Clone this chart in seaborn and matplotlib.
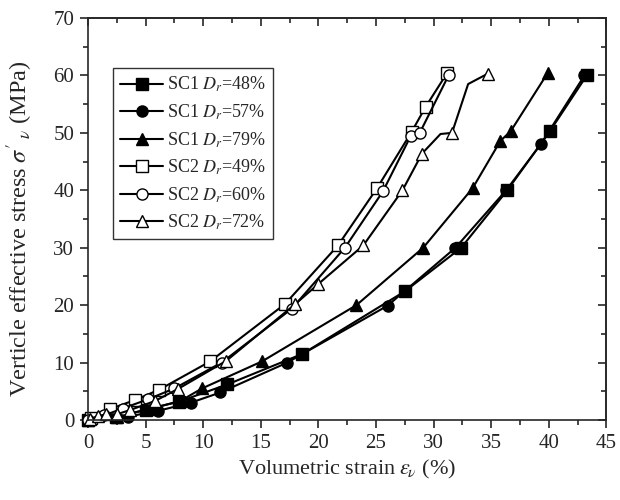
import numpy as np
import pandas as pd
import matplotlib
matplotlib.use("Agg")
import matplotlib.pyplot as plt
import seaborn as sns
from matplotlib.ticker import MultipleLocator

# Volumetric strain (%) and vertical effective stress (MPa) for each test
sc1_48_x = [0, 2.4, 5.0, 7.9, 12.1, 18.6, 27.5, 32.4, 36.4, 40.1, 43.3]
sc1_48_y = [0, 0.5, 1.8, 3.2, 6.2, 11.5, 22.4, 30.0, 40.0, 50.3, 60.0]

sc1_57_x = [0, 3.5, 6.1, 8.9, 11.5, 17.3, 26.0, 31.9, 36.3, 39.3, 43.1]
sc1_57_y = [0, 0.6, 1.6, 3.0, 4.8, 10.0, 19.9, 30.0, 40.0, 48.0, 60.0]

sc1_79_x = [0, 2.5, 5.5, 8.0, 9.9, 15.1, 23.3, 29.1, 33.4, 35.8, 36.7, 39.9]
sc1_79_y = [0, 0.5, 2.0, 3.3, 5.5, 10.2, 20.0, 30.0, 40.4, 48.6, 50.3, 60.4]

sc2_49_x = [0.3, 1.9, 4.1, 6.2, 10.6, 17.1, 21.7, 25.1, 28.1, 29.3, 31.2]
sc2_49_y = [0.4, 1.9, 3.5, 5.3, 10.2, 20.2, 30.4, 40.4, 50.2, 54.5, 60.5]

sc2_60_x = [0, 1.4, 3.0, 5.2, 7.5, 11.6, 17.7, 22.3, 25.6, 28.0, 28.8, 31.3]
sc2_60_y = [0, 0.8, 2.0, 3.6, 5.5, 10.0, 19.4, 30.0, 39.8, 49.4, 50.0, 60.0]

sc2_72_x = [0.2, 0.9, 1.6, 2.5, 3.6, 5.8, 7.8, 12.0, 18.0, 20.0, 23.9, 27.3, 29.0, 30.6, 31.6, 33.0, 34.7]
sc2_72_y = [0.2, 0.7, 1.0, 1.0, 1.7, 3.3, 5.4, 10.3, 20.2, 23.7, 30.4, 40.0, 46.4, 49.8, 50.0, 58.5, 60.3]
sc2_72_marked = [0, 1, 2, 3, 4, 5, 6, 7, 8, 9, 10, 11, 12, 14, 16]

labels = [r"SC1 $D_r$=48%", r"SC1 $D_r$=57%", r"SC1 $D_r$=79%",
          r"SC2 $D_r$=49%", r"SC2 $D_r$=60%", r"SC2 $D_r$=72%"]

sns.set_style("ticks")
plt.rcParams["font.family"] = ["Liberation Serif", "DejaVu Serif"]
plt.rcParams["mathtext.fontset"] = "stix"
plt.rcParams["axes.linewidth"] = 1.2

fig, ax = plt.subplots(figsize=(6.2, 5.0), dpi=100)
fig.subplots_adjust(left=0.142, right=0.978, bottom=0.16, top=0.964)

series = [
    (sc1_48_x, sc1_48_y, "s", "black", None),
    (sc1_57_x, sc1_57_y, "o", "black", None),
    (sc1_79_x, sc1_79_y, "^", "black", None),
    (sc2_49_x, sc2_49_y, "s", "white", None),
    (sc2_60_x, sc2_60_y, "o", "white", None),
    (sc2_72_x, sc2_72_y, "^", "white", sc2_72_marked),
]

for (xs, ys, mk, fc, every), lab in zip(series, labels):
    df = pd.DataFrame({"strain": xs, "stress": ys})
    kw = dict(marker=mk, markersize=8, markerfacecolor=fc, markeredgecolor="black",
              markeredgewidth=1.0, color="black", linewidth=1.5, clip_on=False)
    if every is not None:
        kw["markevery"] = every
    sns.lineplot(data=df, x="strain", y="stress", ax=ax, sort=False, estimator=None,
                 label=lab, **kw)

ax.set_xlim(0, 45)
ax.set_ylim(0, 70)
ax.xaxis.set_major_locator(MultipleLocator(5))
ax.xaxis.set_minor_locator(MultipleLocator(2.5))
ax.yaxis.set_major_locator(MultipleLocator(10))
ax.yaxis.set_minor_locator(MultipleLocator(5))
ax.tick_params(which="major", direction="out", length=6, width=1.2, labelsize=15, pad=4)
ax.tick_params(which="minor", direction="out", length=3.5, width=1.2)

# Inward ticks on the top and right frame
top = ax.secondary_xaxis("top")
top.xaxis.set_major_locator(MultipleLocator(5))
top.xaxis.set_minor_locator(MultipleLocator(2.5))
top.tick_params(which="major", direction="in", length=6, width=1.2, labeltop=False)
top.tick_params(which="minor", direction="in", length=3.5, width=1.2)
right = ax.secondary_yaxis("right")
right.yaxis.set_major_locator(MultipleLocator(10))
right.yaxis.set_minor_locator(MultipleLocator(5))
right.tick_params(which="major", direction="in", length=6, width=1.2, labelright=False)
right.tick_params(which="minor", direction="in", length=3.5, width=1.2)

ax.set_xlabel(r"Volumetric strain $\varepsilon_{\!\nu}$ (%)", fontsize=16, labelpad=4)
ax.set_ylabel(r"Verticle effective stress $\sigma'_{\;\nu}$ (MPa)", fontsize=17.5)
ax.yaxis.set_label_coords(-0.102, 0.475)

leg = ax.legend(loc="upper left", bbox_to_anchor=(0.048, 0.876), borderaxespad=0,
                fontsize=13, frameon=True, fancybox=False, edgecolor="black",
                handlelength=2.4, handletextpad=0.2, labelspacing=0.45,
                borderpad=0.4)
leg.get_frame().set_linewidth(1.0)

fig.savefig("out.png", dpi=100)
